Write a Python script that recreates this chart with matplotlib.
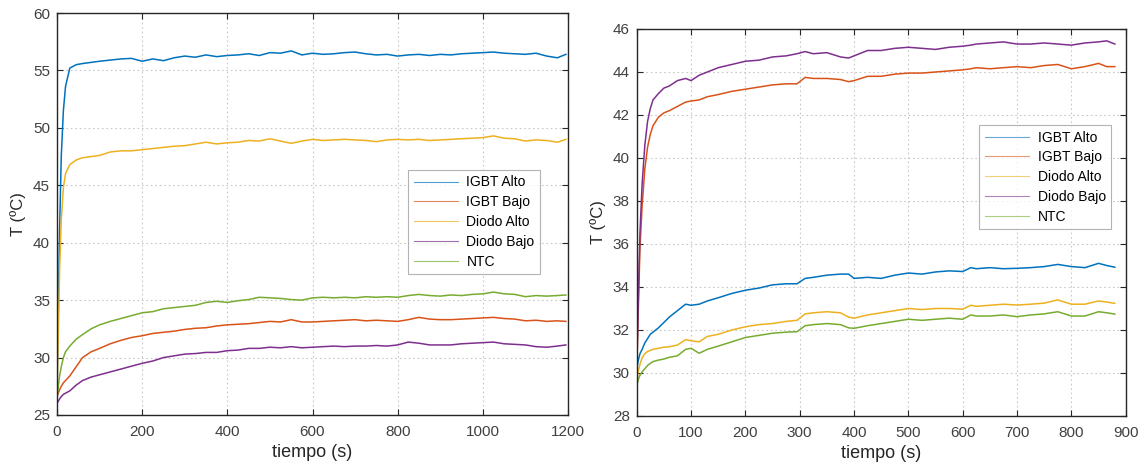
import matplotlib
matplotlib.use("Agg")
import matplotlib.pyplot as plt

# 1. DATA --------------------------------------------------------------
labels = ["IGBT Alto", "IGBT Bajo", "Diodo Alto", "Diodo Bajo", "NTC"]
colors = ["#0072BD", "#D95319", "#EDB120", "#7E2F8E", "#77AC30"]

# left panel: 1200 s test
t_left = [0, 3, 6, 10, 15, 20, 30, 45, 60, 80, 100, 125, 150, 175, 200, 225, 250,
          275, 300, 325, 350, 375, 400, 425, 450, 475, 500, 525, 550, 575, 600,
          625, 650, 675, 700, 725, 750, 775, 800, 825, 850, 875, 900, 925, 950,
          975, 1000, 1025, 1050, 1075, 1100, 1125, 1150, 1175, 1195]
igbt_alto_l = [27.0, 34.0, 41.0, 47.5, 51.5, 53.6, 55.2, 55.5, 55.6, 55.7, 55.8,
               55.9, 56.0, 56.05, 55.8, 56.0, 55.85, 56.1, 56.25, 56.15, 56.35,
               56.2, 56.3, 56.35, 56.45, 56.3, 56.55, 56.5, 56.7, 56.35, 56.5,
               56.4, 56.45, 56.55, 56.6, 56.45, 56.35, 56.4, 56.25, 56.35, 56.4,
               56.3, 56.4, 56.35, 56.45, 56.5, 56.55, 56.6, 56.5, 56.45, 56.4,
               56.5, 56.25, 56.1, 56.4]
igbt_bajo_l = [26.6, 26.9, 27.2, 27.5, 27.8, 28.0, 28.4, 29.2, 30.0, 30.5, 30.8,
               31.2, 31.5, 31.75, 31.9, 32.1, 32.2, 32.3, 32.45, 32.55, 32.6,
               32.75, 32.85, 32.9, 32.95, 33.05, 33.15, 33.1, 33.3, 33.1, 33.1,
               33.15, 33.2, 33.25, 33.3, 33.2, 33.25, 33.2, 33.15, 33.3, 33.5,
               33.35, 33.3, 33.3, 33.35, 33.4, 33.45, 33.5, 33.4, 33.35, 33.2,
               33.25, 33.15, 33.2, 33.15]
diodo_alto_l = [27.0, 32.0, 37.5, 42.0, 44.8, 46.0, 46.8, 47.2, 47.4, 47.5, 47.6,
                47.9, 48.0, 48.0, 48.1, 48.2, 48.3, 48.4, 48.45, 48.6, 48.75,
                48.6, 48.7, 48.75, 48.9, 48.85, 49.05, 48.85, 48.65, 48.85, 49.0,
                48.9, 48.95, 49.0, 48.95, 48.9, 48.8, 48.95, 49.0, 48.95, 49.0,
                48.9, 48.95, 49.0, 49.05, 49.1, 49.15, 49.3, 49.1, 49.05, 48.85,
                48.95, 48.9, 48.75, 49.0]
diodo_bajo_l = [26.0, 26.2, 26.4, 26.6, 26.8, 26.9, 27.1, 27.6, 28.0, 28.3, 28.5,
                28.75, 29.0, 29.25, 29.5, 29.7, 30.0, 30.15, 30.3, 30.35, 30.45,
                30.45, 30.6, 30.65, 30.8, 30.8, 30.9, 30.85, 30.95, 30.85, 30.9,
                30.95, 31.0, 30.95, 31.0, 31.0, 31.05, 31.0, 31.1, 31.35, 31.25,
                31.1, 31.1, 31.1, 31.2, 31.25, 31.3, 31.35, 31.2, 31.15, 31.1,
                30.95, 30.9, 31.0, 31.1]
ntc_l = [26.5, 27.5, 28.4, 29.2, 30.0, 30.5, 31.0, 31.6, 32.0, 32.5, 32.85,
         33.15, 33.4, 33.65, 33.9, 34.0, 34.25, 34.35, 34.45, 34.55, 34.8,
         34.9, 34.8, 34.95, 35.05, 35.25, 35.2, 35.15, 35.05, 35.0, 35.2,
         35.25, 35.2, 35.25, 35.2, 35.3, 35.25, 35.3, 35.25, 35.4, 35.5,
         35.4, 35.35, 35.45, 35.4, 35.5, 35.55, 35.7, 35.55, 35.5, 35.3,
         35.4, 35.35, 35.4, 35.45]

# right panel: 900 s test
t_right = [0, 3, 6, 10, 15, 20, 25, 30, 40, 50, 60, 75, 90, 100, 115, 130, 150,
           175, 200, 225, 250, 275, 295, 310, 325, 350, 375, 390, 400, 425, 450,
           475, 500, 525, 550, 575, 600, 615, 625, 650, 675, 700, 725, 750, 775,
           800, 825, 850, 865, 880]
igbt_alto_r = [30.2, 30.6, 30.9, 31.1, 31.4, 31.6, 31.8, 31.9, 32.1, 32.35, 32.6,
               32.9, 33.2, 33.15, 33.2, 33.35, 33.5, 33.7, 33.85, 33.95, 34.1,
               34.15, 34.15, 34.4, 34.45, 34.55, 34.6, 34.6, 34.4, 34.45, 34.4,
               34.55, 34.65, 34.6, 34.7, 34.75, 34.72, 34.9, 34.85, 34.9, 34.85,
               34.87, 34.9, 34.95, 35.05, 34.95, 34.9, 35.1, 35.0, 34.92]
igbt_bajo_r = [30.0, 33.0, 35.8, 37.8, 39.5, 40.5, 41.1, 41.5, 41.9, 42.1, 42.2,
               42.4, 42.6, 42.65, 42.7, 42.85, 42.95, 43.1, 43.2, 43.3, 43.4,
               43.45, 43.45, 43.75, 43.7, 43.7, 43.65, 43.55, 43.6, 43.8, 43.8,
               43.9, 43.95, 43.95, 44.0, 44.05, 44.1, 44.15, 44.2, 44.15, 44.2,
               44.25, 44.2, 44.3, 44.35, 44.15, 44.25, 44.4, 44.25, 44.25]
diodo_alto_r = [29.7, 30.1, 30.4, 30.7, 30.9, 31.0, 31.05, 31.1, 31.15, 31.2, 31.22,
                31.3, 31.55, 31.5, 31.45, 31.7, 31.8, 32.0, 32.15, 32.25, 32.3,
                32.4, 32.45, 32.75, 32.8, 32.85, 32.8, 32.6, 32.55, 32.7, 32.8,
                32.9, 33.0, 32.95, 33.0, 33.0, 32.97, 33.15, 33.1, 33.15, 33.2,
                33.16, 33.2, 33.25, 33.4, 33.2, 33.2, 33.35, 33.3, 33.24]
diodo_bajo_r = [30.0, 33.5, 36.5, 38.8, 40.6, 41.7, 42.3, 42.7, 43.0, 43.25, 43.35,
                43.6, 43.7, 43.6, 43.85, 44.0, 44.2, 44.35, 44.5, 44.55, 44.7,
                44.75, 44.85, 44.95, 44.85, 44.9, 44.7, 44.65, 44.75, 45.0, 45.0,
                45.1, 45.15, 45.1, 45.05, 45.15, 45.2, 45.25, 45.3, 45.35, 45.4,
                45.3, 45.3, 45.35, 45.3, 45.25, 45.35, 45.4, 45.45, 45.3]
ntc_r = [29.4, 29.7, 29.9, 30.05, 30.2, 30.35, 30.45, 30.53, 30.6, 30.65, 30.73,
         30.8, 31.1, 31.15, 30.92, 31.1, 31.25, 31.45, 31.65, 31.75, 31.85,
         31.9, 31.92, 32.2, 32.25, 32.3, 32.25, 32.1, 32.08, 32.2, 32.3,
         32.4, 32.5, 32.45, 32.5, 32.55, 32.5, 32.7, 32.65, 32.65, 32.7,
         32.62, 32.7, 32.75, 32.85, 32.65, 32.65, 32.85, 32.8, 32.74]

# 2. STYLE ---------------------------------------------------------------
plt.rcParams["font.family"] = ["Liberation Sans", "DejaVu Sans"]
W, H = 1139, 466


def style_axes(ax, xlim, ylim, xticks, yticks):
    ax.set_xlim(*xlim)
    ax.set_ylim(*ylim)
    ax.set_xticks(xticks)
    ax.set_yticks(yticks)
    ax.grid(True, linestyle=(0, (1.5, 2.5)), color="#c8c8c8", linewidth=0.8)
    ax.tick_params(direction="in", top=True, right=True, labelsize=11,
                   colors="#262626", labelcolor="#404040", length=4, width=0.8)
    ax.tick_params(axis="x", pad=7)
    ax.tick_params(axis="y", pad=5)
    for s in ax.spines.values():
        s.set_color("#262626")
        s.set_linewidth(1.0)
    ax.set_xlabel("tiempo (s)", fontsize=13, color="#262626", labelpad=4)
    ax.set_ylabel("T (ºC)", fontsize=12, color="#262626", labelpad=5)


fig = plt.figure(figsize=(W / 100, H / 100), dpi=100)

# left axes
ax1 = fig.add_axes([57 / W, (H - 415) / H, 511 / W, 402 / H])
left_series = [igbt_alto_l, igbt_bajo_l, diodo_alto_l, diodo_bajo_l, ntc_l]
for y, c, lab in zip(left_series, colors, labels):
    ax1.plot(t_left, y, color=c, lw=1.1, label=lab)
style_axes(ax1, (0, 1200), (25, 60), range(0, 1201, 200), range(25, 61, 5))
leg1 = ax1.legend(loc="upper right", bbox_to_anchor=(0.959, 0.627), fontsize=10,
                  frameon=True, fancybox=False, edgecolor="#a0a0a0",
                  handlelength=3.2, labelspacing=0.42, borderpad=0.4,
                  handletextpad=0.6)
leg1.get_frame().set_linewidth(0.8)
for line in leg1.get_lines():
    line.set_linewidth(0.8)
    line.set_alpha(0.7)

# right axes
ax2 = fig.add_axes([636.7 / W, (H - 416) / H, 489 / W, 387 / H])
right_series = [igbt_alto_r, igbt_bajo_r, diodo_alto_r, diodo_bajo_r, ntc_r]
for y, c, lab in zip(right_series, colors, labels):
    ax2.plot(t_right, y, color=c, lw=1.1, label=lab)
style_axes(ax2, (0, 900), (28, 46), range(0, 901, 100), range(28, 47, 2))
leg2 = ax2.legend(loc="upper right", bbox_to_anchor=(0.985, 0.77), fontsize=10,
                  frameon=True, fancybox=False, edgecolor="#a0a0a0",
                  handlelength=3.2, labelspacing=0.42, borderpad=0.4,
                  handletextpad=0.6)
leg2.get_frame().set_linewidth(0.8)
for line in leg2.get_lines():
    line.set_linewidth(0.8)
    line.set_alpha(0.6)

fig.savefig("out.png", dpi=100)
